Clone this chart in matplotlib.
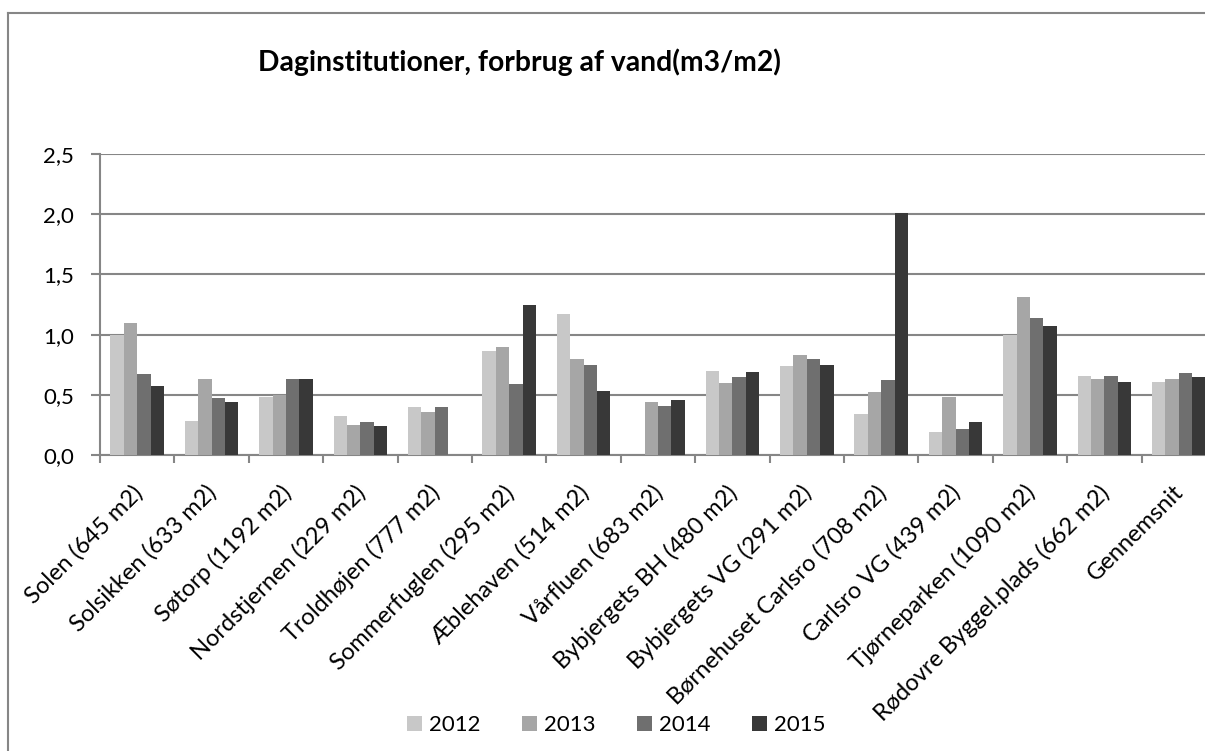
import numpy as np
import matplotlib.pyplot as plt
import matplotlib.transforms as mtransforms
from matplotlib.lines import Line2D
from matplotlib.ticker import FuncFormatter

plt.rcParams['font.family'] = ['Lato', 'DejaVu Sans']

categories = ["Solen (645 m2)", "Solsikken (633 m2)", "Søtorp (1192 m2)",
              "Nordstjernen (229 m2)", "Troldhøjen (777 m2)", "Sommerfuglen (295 m2)",
              "Æblehaven (514 m2)", "Vårfluen (683 m2)", "Bybjergets BH (480 m2)",
              "Bybjergets VG (291 m2)", "Børnehuset Carlsro (708 m2)", "Carlsro VG (439 m2)",
              "Tjørneparken (1090 m2)", "Rødovre Byggel.plads (662 m2)", "Gennemsnit"]
years = ["2012", "2013", "2014", "2015"]
v2012 = [1.00, 0.28, 0.48, 0.32, 0.40, 0.86, 1.17, np.nan, 0.70, 0.74, 0.34, 0.19, 1.00, 0.66, 0.61]
v2013 = [1.10, 0.63, 0.50, 0.25, 0.36, 0.90, 0.80, 0.44, 0.60, 0.83, 0.52, 0.48, 1.31, 0.63, 0.63]
v2014 = [0.67, 0.47, 0.63, 0.27, 0.40, 0.59, 0.75, 0.41, 0.65, 0.80, 0.62, 0.22, 1.14, 0.66, 0.68]
v2015 = [0.57, 0.44, 0.63, 0.24, np.nan, 1.25, 0.53, 0.46, 0.69, 0.75, 2.01, 0.27, 1.07, 0.61, 0.65]
series = [v2012, v2013, v2014, v2015]
colors = ["#c8c8c8", "#a6a6a6", "#6f6f6f", "#383838"]

W, H = 1205, 751
fig = plt.figure(figsize=(W / 100, H / 100), dpi=100)
# plot area runs past the right edge, as in the cropped screenshot
ax = fig.add_axes([100 / W, 1 - 455 / H, 1116 / W, 301 / H])

x = np.arange(len(categories))
bw = 0.18
for i, (vals, c, yr) in enumerate(zip(series, colors, years)):
    ax.bar(x + (i - 1.5) * bw, vals, width=bw, color=c, label=yr, zorder=3, linewidth=0)

grid_c = "#868686"
ax.set_xlim(-0.5, len(categories) - 0.5)
ax.set_ylim(0, 2.5)
ax.set_yticks(np.arange(0, 2.51, 0.5))
ax.yaxis.set_major_formatter(FuncFormatter(lambda v, p: f"{v:.1f}".replace(".", ",")))
ax.yaxis.grid(True, color=grid_c, linewidth=1.5, zorder=0)
ax.set_xticks(x)
ax.set_xticklabels(categories, rotation=45, ha="right", rotation_mode="anchor")
ax.set_xticks(np.arange(-0.5, len(categories) + 0.5, 1), minor=True)
ax.tick_params(axis="x", which="major", length=0, pad=19, labelsize=17)
ax.tick_params(axis="x", which="minor", length=6, width=1.5, color=grid_c)
ax.tick_params(axis="y", length=6.5, width=1.5, color=grid_c, pad=12, labelsize=16)
shift = mtransforms.ScaledTranslation(-6 / 100, 0, fig.dpi_scale_trans)
for lab in ax.get_xticklabels():
    lab.set_transform(lab.get_transform() + shift)
for s in ["top", "right"]:
    ax.spines[s].set_visible(False)
for s in ["left", "bottom"]:
    ax.spines[s].set_color(grid_c)
    ax.spines[s].set_linewidth(1.5)

fig.text(519 / W, 1 - 62 / H, "Daginstitutioner, forbrug af vand(m3/m2)",
         ha="center", va="center", fontsize=20.3, fontweight="bold")

fig.legend(loc="center", bbox_to_anchor=(616 / W, 1 - 725 / H), ncol=4, frameon=False,
           fontsize=16, handlelength=0.68, handleheight=0.68, handletextpad=0.3,
           columnspacing=1.88)

# outer chart frame (left and top edges visible)
fig.add_artist(Line2D([8 / W, 8 / W], [0, 1 - 12.7 / H], color=grid_c, linewidth=1.5))
fig.add_artist(Line2D([8 / W, 1], [1 - 12.7 / H, 1 - 12.7 / H], color=grid_c, linewidth=1.5))

fig.savefig("out.png", dpi=100)
